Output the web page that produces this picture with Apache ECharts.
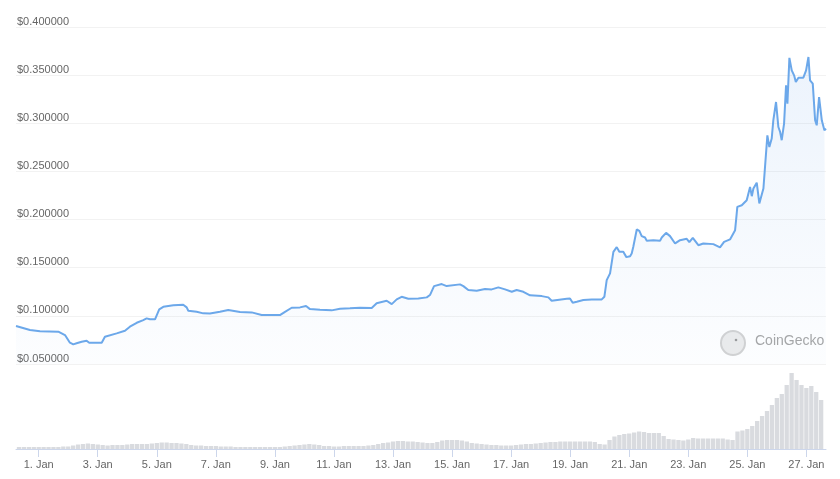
<!DOCTYPE html>
<html>
<head>
<meta charset="utf-8">
<script src="https://cdn.jsdelivr.net/npm/echarts@6/dist/echarts.min.js"></script>
<style>html,body{margin:0;padding:0;background:#fff;}#chart{width:840px;height:479px;}</style>
</head>
<body>
<div id="chart"></div>
<script>
// Price series: hours from 1 Jan 00:00 and price (USD)
const priceHours = [-16.7,-5.4,2.7,17.5,22.9,26.9,29.6,32.3,36.4,40.4,42.5,52.6,55.2,64.7,71.4,75.4,80.9,86.2,88.9,91.6,95.7,99.1,102.4,110.5,118.5,121.3,122.6,129.4,134.7,140.1,148.2,154.9,164.4,173.9,181.9,196.7,200.8,206.2,212.9,217.8,221.0,229.1,238.5,245.3,253.3,261.4,270.9,274.9,276.2,283.0,287.1,291.1,295.1,300.5,308.6,315.4,318.0,321.3,327.5,328.8,331.5,342.3,345.0,349.0,355.8,362.5,367.9,373.3,378.7,384.1,388.1,393.5,398.9,408.4,413.7,416.4,428.6,431.2,433.4,436.7,442.0,448.8,456.9,459.0,460.9,463.6,466.3,469.0,471.1,474.3,476.8,479.8,481.1,482.4,485.2,487.3,489.2,491.9,493.3,498.6,504.0,505.4,508.9,512.1,516.2,520.2,525.6,527.7,530.5,535.0,539.0,547.1,552.5,555.8,560.6,564.7,565.5,566.5,570.1,574.1,575.4,576.8,578.2,579.5,582.2,584.3,587.6,588.9,590.8,592.4,594.3,595.6,597.8,599.7,601.1,602.4,604.3,605.9,607.0,608.6,610.5,612.4,613.8,615.9,619.9,622.1,624.0,625.3,627.5,629.4,630.7,632.6,634.8,636.9,638.2];
const priceValues = [0.0894,0.0853,0.0839,0.0836,0.0801,0.0721,0.0704,0.0715,0.0731,0.0742,0.0721,0.0721,0.0783,0.0818,0.0845,0.0887,0.0928,0.0956,0.0974,0.0964,0.0964,0.1067,0.1094,0.1109,0.1115,0.1088,0.1053,0.1042,0.1026,0.1024,0.1042,0.1060,0.1039,0.1036,0.1008,0.1008,0.1042,0.1084,0.1088,0.1102,0.1070,0.1063,0.1057,0.1074,0.1078,0.1084,0.1081,0.1130,0.1146,0.1157,0.1122,0.1171,0.1198,0.1177,0.1181,0.1192,0.1216,0.1309,0.1330,0.1337,0.1309,0.1327,0.1309,0.1268,0.1260,0.1278,0.1275,0.1296,0.1275,0.1250,0.1268,0.1250,0.1213,0.1205,0.1192,0.1157,0.1177,0.1181,0.1136,0.1146,0.1164,0.1171,0.1171,0.1198,0.1371,0.1441,0.1665,0.1714,0.1665,0.1665,0.1610,0.1620,0.1648,0.1717,0.1897,0.1883,0.1828,0.1814,0.1779,0.1786,0.1779,0.1814,0.1862,0.1828,0.1752,0.1786,0.1800,0.1766,0.1810,0.1734,0.1752,0.1745,0.1711,0.1769,0.1794,0.1890,0.1994,0.2132,0.2149,0.2201,0.2184,0.2339,0.2243,0.2323,0.2383,0.2167,0.2323,0.2547,0.2875,0.2754,0.2841,0.3031,0.3221,0.2961,0.2910,0.2824,0.2997,0.3394,0.3204,0.3679,0.3550,0.3498,0.3428,0.3474,0.3474,0.3550,0.3688,0.3446,0.3412,0.3031,0.2979,0.3273,0.3031,0.2927,0.2945];
// Volume bars: every 4 hours starting at hour -16 (relative units)
const volumeStartHour = -16;
const volumeStepHours = 4;
const volumeValues = [20,20,20,20,20,20,20,20,20,25,25,35,45,50,55,50,45,40,35,40,40,40,45,50,50,50,50,55,60,65,65,60,60,55,50,40,35,35,30,30,30,25,25,25,20,20,20,20,20,20,20,20,20,20,25,30,35,40,45,50,45,40,30,30,25,25,30,30,30,30,30,35,40,50,60,65,75,80,80,75,75,70,65,60,60,70,85,90,90,90,85,75,60,55,50,45,40,40,35,35,35,40,45,50,50,55,60,65,70,70,75,75,75,75,75,75,75,70,50,45,90,125,140,150,155,165,175,170,160,160,160,130,100,95,90,85,95,110,105,105,105,105,105,105,95,90,175,185,200,230,280,330,380,440,510,550,640,760,690,640,610,630,570,490];
// Axis tick labels
const yTicks = [0.05, 0.10, 0.15, 0.20, 0.25, 0.30, 0.35, 0.40];
const monthNames = ['Jan','Feb','Mar','Apr','May','Jun','Jul','Aug','Sep','Oct','Nov','Dec'];

const base = new Date(2021, 0, 1, 0, 0, 0).getTime();
const H = 3600000;
const priceData = priceHours.map((h, i) => [base + h * H, priceValues[i]]);
const volData = volumeValues.map((v, i) => [base + (volumeStartHour + i * volumeStepHours) * H, v]);
const xMin = base + priceHours[0] * H;
const xMax = base + priceHours[priceHours.length - 1] * H;

const chart = echarts.init(document.getElementById('chart'));
const font = '"Liberation Sans", Arial, sans-serif';
chart.setOption({
  animation: false,
  backgroundColor: '#fff',
  grid: [
    { left: 16, right: 14, top: 27, bottom: 115 },
    { left: 16, right: 14, top: 370, bottom: 30 }
  ],
  xAxis: [
    { type: 'time', gridIndex: 0, min: xMin, max: xMax, show: false },
    {
      type: 'time', gridIndex: 1, min: xMin, max: xMax,
      minInterval: 2 * 24 * H, maxInterval: 2 * 24 * H,
      axisLine: { lineStyle: { color: '#ccd6eb', width: 1 } },
      axisTick: { show: true, length: 8, lineStyle: { color: '#ccd6eb' } },
      splitLine: { show: false },
      axisLabel: {
        color: '#666', fontSize: 11, fontFamily: font, margin: 10,
        formatter: function (v) { const d = new Date(v); return d.getDate() + '. ' + monthNames[d.getMonth()]; }
      }
    }
  ],
  yAxis: [
    {
      type: 'value', gridIndex: 0, min: yTicks[0], max: yTicks[yTicks.length - 1], interval: 0.05,
      axisLine: { show: false }, axisTick: { show: false },
      splitLine: { lineStyle: { color: '#f2f2f2', width: 1 } },
      axisLabel: {
        inside: true, margin: 1, verticalAlign: 'bottom', color: '#666', fontSize: 11, fontFamily: font,
        formatter: v => '$' + v.toFixed(6)
      }
    },
    { type: 'value', gridIndex: 1, min: 0, max: 790, show: false }
  ],
  graphic: [
    { type: 'circle', shape: { cx: 733, cy: 343, r: 12 }, style: { fill: '#ececec', stroke: '#d2d2d2', lineWidth: 2 }, z: 0 },
    { type: 'circle', shape: { cx: 736, cy: 340, r: 1.3 }, style: { fill: '#9a9a9a' }, z: 0 },
    { type: 'text', left: 755, top: 334, style: { text: 'CoinGecko', fontSize: 14, fontFamily: font, fill: '#a6a6a6' }, z: 0 }
  ],
  series: [
    {
      type: 'bar', xAxisIndex: 1, yAxisIndex: 1, data: volData, barWidth: 4.3,
      itemStyle: { color: '#d9dbdf' }, silent: true
    },
    {
      type: 'line', xAxisIndex: 0, yAxisIndex: 0, data: priceData, showSymbol: false,
      lineStyle: { color: '#6ca8ea', width: 2 },
      areaStyle: {
        color: new echarts.graphic.LinearGradient(0, 0, 0, 1, [
          { offset: 0, color: 'rgba(120,172,236,0.20)' },
          { offset: 1, color: 'rgba(120,172,236,0.03)' }
        ])
      },
      z: 3
    }
  ]
});
</script>
</body>
</html>
